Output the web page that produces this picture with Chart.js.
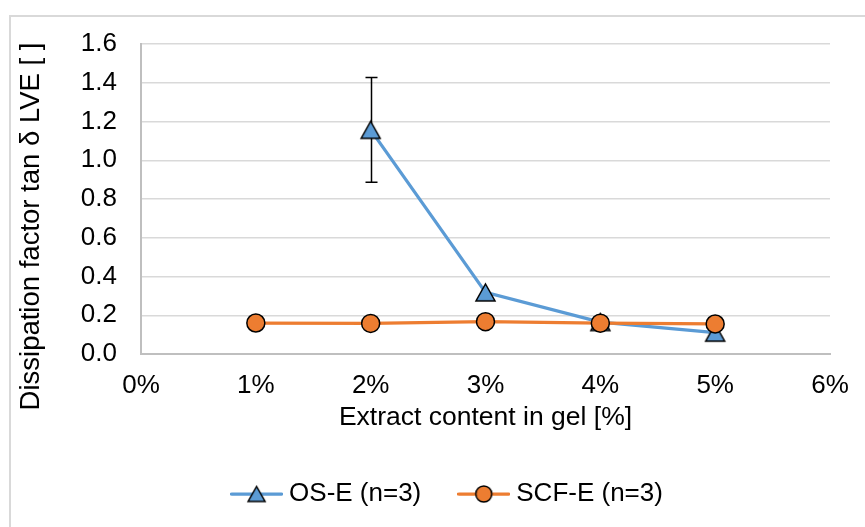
<!DOCTYPE html>
<html>
<head>
<meta charset="utf-8">
<title>Dissipation factor vs extract content</title>
<script src="https://cdn.jsdelivr.net/npm/chart.js@4/dist/chart.umd.min.js"></script>
<style>
  html, body { margin: 0; padding: 0; background: #ffffff; overflow: hidden; }
  #wrap { position: relative; width: 865px; height: 527px; }
</style>
</head>
<body>
<div id="wrap"><canvas id="chart" width="865" height="527"></canvas></div>
<script>
// Extract content in gel (%) for each series
const osX = [2, 3, 4, 5];
const scfX = [1, 2, 3, 4, 5];

// Dissipation factor tan δ in the LVE region
const osY = [1.157, 0.318, 0.165, 0.110];
const scfY = [0.160, 0.158, 0.167, 0.159, 0.155];

// Standard deviation of OS-E (only the 2 % gel shows a visible bar)
const osErr = [0.27, null, null, null];

// Axis tick labels
const xTickLabels = ['0%', '1%', '2%', '3%', '4%', '5%', '6%'];
const yTickLabels = ['0.0', '0.2', '0.4', '0.6', '0.8', '1.0', '1.2', '1.4', '1.6'];

const seriesNames = ['OS-E (n=3)', 'SCF-E (n=3)'];

const BLUE = '#5B9BD5';
const ORANGE = '#ED7D31';
const FONT = "'Liberation Sans', Arial, sans-serif";

// Triangle marker centred on its bounding box
function triangleIcon(w, h, fill) {
  const c = document.createElement('canvas');
  c.width = w + 4; c.height = h + 4;
  const g = c.getContext('2d');
  const cx = c.width / 2, cy = c.height / 2;
  g.beginPath();
  g.moveTo(cx, cy - h / 2);
  g.lineTo(cx + w / 2, cy + h / 2);
  g.lineTo(cx - w / 2, cy + h / 2);
  g.closePath();
  g.fillStyle = fill; g.fill();
  g.lineWidth = 1.5; g.strokeStyle = '#000'; g.lineJoin = 'miter'; g.stroke();
  return c;
}

// Legend sample: a short line with the marker on top
function legendIcon(color, marker) {
  const c = document.createElement('canvas');
  c.width = 53; c.height = 24;
  const g = c.getContext('2d');
  g.strokeStyle = color; g.lineWidth = 3.25; g.lineCap = 'round';
  g.beginPath(); g.moveTo(1.5, 12); g.lineTo(51.5, 12); g.stroke();
  if (marker === 'triangle') {
    const t = triangleIcon(17, 15, color);
    g.drawImage(t, 26.5 - t.width / 2, 12 - t.height / 2);
  } else {
    g.beginPath(); g.arc(26.5, 12, 8, 0, Math.PI * 2);
    g.fillStyle = color; g.fill();
    g.lineWidth = 1.5; g.strokeStyle = '#000'; g.stroke();
  }
  return c;
}

const triMarker = triangleIcon(19, 17, BLUE);
const legendIcons = [legendIcon(BLUE, 'triangle'), legendIcon(ORANGE, 'circle')];

// White page with the light chart-area frame
const framePlugin = {
  id: 'frame',
  beforeDraw(chart) {
    const g = chart.ctx;
    g.save();
    g.fillStyle = '#ffffff';
    g.fillRect(0, 0, chart.width, chart.height);
    g.strokeStyle = '#d9d9d9';
    g.lineWidth = 2;
    g.strokeRect(10, 16, chart.width + 40, chart.height + 40);
    g.restore();
  }
};

// Vertical error bars with caps, drawn under the markers
const errorBarPlugin = {
  id: 'errorBars',
  beforeDatasetsDraw(chart) {
    const xs = chart.scales.x, ys = chart.scales.y;
    const g = chart.ctx;
    g.save();
    g.strokeStyle = '#000';
    g.lineWidth = 1.5;
    osX.forEach((xv, i) => {
      const e = osErr[i];
      if (e == null) return;
      const px = Math.round(xs.getPixelForValue(xv)) + 0.5;
      const top = ys.getPixelForValue(osY[i] + e);
      const bot = ys.getPixelForValue(osY[i] - e);
      g.beginPath();
      g.moveTo(px, top); g.lineTo(px, bot);
      g.moveTo(px - 6, top); g.lineTo(px + 6, top);
      g.moveTo(px - 6, bot); g.lineTo(px + 6, bot);
      g.stroke();
    });
    g.restore();
  }
};

new Chart(document.getElementById('chart'), {
  type: 'line',
  data: {
    datasets: [
      {
        label: seriesNames[0],
        data: osX.map((x, i) => ({ x: x, y: osY[i] })),
        borderColor: BLUE,
        borderWidth: 3.25,
        backgroundColor: BLUE,
        pointStyle: triMarker,
        pointRadius: 10,
        tension: 0,
        order: 1
      },
      {
        label: seriesNames[1],
        data: scfX.map((x, i) => ({ x: x, y: scfY[i] })),
        borderColor: ORANGE,
        borderWidth: 3.25,
        backgroundColor: ORANGE,
        pointStyle: 'circle',
        pointRadius: 9,
        pointBorderColor: '#000',
        pointBorderWidth: 1.5,
        pointBackgroundColor: ORANGE,
        tension: 0,
        order: 0
      }
    ]
  },
  options: {
    responsive: false,
    devicePixelRatio: 1,
    animation: false,
    layout: { padding: { left: 35, right: 0, top: 44, bottom: 10 } },
    scales: {
      x: {
        type: 'linear',
        min: 0,
        max: 6,
        afterFit(s) { s.height = 84; s.paddingRight = 35; s.paddingLeft = 0; },
        ticks: {
          stepSize: 1,
          callback: (v) => xTickLabels[Math.round(v)],
          font: { family: FONT, size: 26 },
          color: '#000',
          padding: 16,
          maxRotation: 0
        },
        grid: { display: false, drawTicks: false },
        border: { display: true, color: '#bfbfbf', width: 2 },
        title: {
          display: true,
          text: 'Extract content in gel [%]',
          font: { family: FONT, size: 26.5 },
          color: '#000',
          padding: { top: 0, bottom: 4 }
        }
      },
      y: {
        type: 'linear',
        min: 0,
        max: 1.6,
        afterFit(s) { s.width = 106; },
        ticks: {
          stepSize: 0.2,
          callback: (v) => yTickLabels[Math.round(v / 0.2)],
          font: { family: FONT, size: 26 },
          color: '#000',
          padding: 24
        },
        grid: { color: '#d9d9d9', lineWidth: 1.5, drawTicks: false },
        border: { display: true, color: '#bfbfbf', width: 2 },
        title: {
          display: true,
          text: 'Dissipation factor tan δ LVE [ ]\u2002\u2002\u2002\u2002',
          font: { family: FONT, size: 27.5 },
          color: '#000',
          padding: { top: -20, bottom: 0 }
        }
      }
    },
    plugins: {
      tooltip: { enabled: false },
      legend: {
        position: 'bottom',
        labels: {
          usePointStyle: true,
          pointStyleWidth: 39,
          padding: 43,
          font: { family: FONT, size: 26 },
          color: '#000',
          generateLabels(chart) {
            return chart.data.datasets.map((ds, i) => ({
              text: ds.label,
              pointStyle: legendIcons[i],
              datasetIndex: i,
              hidden: false,
              lineWidth: 0,
              fillStyle: ds.borderColor,
              strokeStyle: ds.borderColor,
              fontColor: '#000'
            }));
          }
        }
      }
    }
  },
  plugins: [framePlugin, errorBarPlugin]
});
</script>
</body>
</html>
